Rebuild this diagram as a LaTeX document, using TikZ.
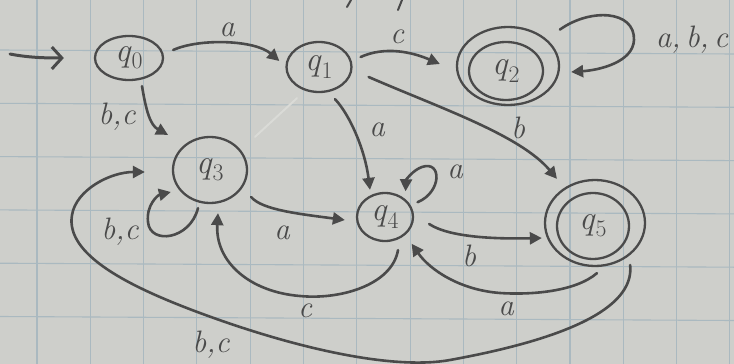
\documentclass[tikz,border=0pt]{standalone}
\usepackage{fontspec}
\usetikzlibrary{shapes.geometric,arrows.meta}
\definecolor{paper}{RGB}{206,207,203}
\definecolor{gridc}{RGB}{170,185,192}
\definecolor{pencil}{RGB}{74,74,74}
\definecolor{erased}{RGB}{218,219,215}
\newcommand{\qs}[1]{\textit{q}\textsubscript{#1}}
\begin{document}
\begin{tikzpicture}[x=1pt,y=1pt,
  state/.style={ellipse,draw=pencil,line width=2.3pt,inner sep=0pt,text=pencil,font=\fontsize{34}{34}\selectfont},
  edge/.style={draw=pencil,line width=2.6pt,line cap=round,-{Triangle[length=12pt,width=12pt]}},
  lbl/.style={text=pencil,font=\fontsize{31}{31}\selectfont\itshape,inner sep=0pt}]
\fill[paper] (0,0) rectangle (734,-364);
\useasboundingbox (0,0) rectangle (734,-364);
% grid
\foreach \gx in {37,90.3,143.6,196.9,250.2,303.5,356.8,410.1,463.4,516.7,570,623.3,676.6,729.9}
  \draw[gridc,line width=1.1pt] (\gx,0) -- (\gx,-364);
\foreach \gy in {50,103.3,156.6,209.9,263.2,316.5}
  \draw[gridc,line width=1.1pt] (0,-\gy) -- (734,-\gy-4);
% states
\node[state,minimum width=68pt,minimum height=44pt] (q0) at (129,-58) {\qs{0}};
\node[state,minimum width=65pt,minimum height=50pt] (q1) at (319,-67) {\qs{1}};
\node[state,minimum width=102pt,minimum height=78pt] (q2) at (508,-66) {};
\draw[pencil,line width=2.3pt] (506,-71) ellipse [x radius=37, y radius=29];
\node[state,draw=none] (q2t) at (506,-71) {\qs{2}};
\node[state,minimum width=74pt,minimum height=66pt] (q3) at (210,-170) {\qs{3}};
\node[state,minimum width=56pt,minimum height=48pt] (q4) at (385,-217) {\qs{4}};
\node[state,minimum width=100pt,minimum height=86pt] (q5) at (595,-223) {};
\draw[pencil,line width=2.3pt] (593,-226) ellipse [x radius=36, y radius=33];
\node[state,draw=none] (q5t) at (593,-226) {\qs{5}};
% marks at top edge
\coordinate (m1a) at (351,0); \coordinate (m1b) at (347,-7);
\coordinate (m2a) at (402,0); \coordinate (m2b) at (398,-10);
\draw[pencil,line width=2pt,line cap=round] (m1a) -- (m1b);
\draw[pencil,line width=2pt,line cap=round] (m2a) -- (m2b);
% initial arrow
\coordinate (init) at (10,-54);
\draw[pencil,line width=3pt,line cap=round,-{Straight Barb[length=10pt,width=22pt]},shorten >=30pt]
  (init) .. controls (30,-58) and (50,-58) .. (q0.west);
% erased stroke
\draw[erased,line width=2pt,line cap=round] ([shift={(-22,-5)}]q1.south) -- ([shift={(45,-1)}]q3.north);
% edges
\draw[edge] ([shift={(9,8)}]q0.east) .. controls (200,-38) and (255,-40) .. ([shift={(-6,6)}]q1.west);
\node[lbl] (la01) at (227,-30) {a};
\draw[edge] ([shift={(13,-5)}]q0.south) .. controls (146,-110) and (150,-125) .. ([shift={(-42,1)}]q3.north);
\node[lbl] (la03) at (117,-117) {b,c};
\draw[edge] ([shift={(8,10)}]q1.east) .. controls (385,-46) and (412,-52) .. ([shift={(-16,2)}]q2.west);
\node[lbl] (la12) at (397,-37) {c};
\draw[edge] ([shift={(16,-10)}]q1.east) .. controls (440,-108) and (520,-135) .. ([shift={(-38,0)}]q5.north);
\node[lbl] (la15) at (518,-128) {b};
\draw[edge] ([shift={(16,-6)}]q1.south) .. controls (350,-115) and (365,-150) .. ([shift={(-15,2)}]q4.north);
\node[lbl] (la14) at (377,-130) {a};
\draw[edge] ([shift={(15,8)}]q2.north east) .. controls (590,-8) and (635,-10) .. (634,-40) .. controls (633,-62) and (600,-70) .. ([shift={(11,-6)}]q2.east);
\node[lbl] (la22) at (692,-40) {a,\,b,\,c};
\draw[edge] ([shift={(-12,-4)}]q3.south) .. controls (190,-240) and (150,-245) .. (148,-222) .. controls (146,-205) and (158,-195) .. ([shift={(-1,-22)}]q3.west);
\node[lbl] (la33) at (120,-232) {b,c};
\draw[edge] ([shift={(3,-27)}]q3.east) .. controls (262,-210) and (300,-214) .. ([shift={(-11,-3)}]q4.west);
\node[lbl] (la34) at (282,-233) {a};
\draw[edge] ([shift={(13,-8)}]q4.south) .. controls (392,-285) and (340,-300) .. (300,-296) .. controls (250,-292) and (215,-262) .. ([shift={(8,-9)}]q3.south);
\node[lbl] (la43) at (305,-311) {c};
\draw[edge] ([shift={(12,-3)}]q4.north east) .. controls (442,-192) and (442,-160) .. (422,-167) .. controls (413,-170) and (406,-180) .. ([shift={(0,8)}]q4.north east);
\node[lbl] (la44) at (455,-172) {a};
\draw[edge] ([shift={(15,-7)}]q4.east) .. controls (450,-238) and (500,-239) .. ([shift={(-2,-15)}]q5.west);
\node[lbl] (la45) at (469,-256) {b};
\draw[edge] ([shift={(2,-6)}]q5.south) .. controls (575,-292) and (530,-295) .. (500,-293) .. controls (460,-290) and (430,-270) .. ([shift={(6,-9)}]q4.south east);
\node[lbl] (la54) at (506,-309) {a};
\draw[edge] ([shift={(-16,-42)}]q5.east) .. controls (635,-310) and (560,-340) .. (450,-360) .. controls (395,-370) and (300,-350) .. (200,-313) .. controls (130,-287) and (65,-255) .. (72,-215) .. controls (76,-190) and (110,-172) .. ([shift={(-27,-2)}]q3.west);
\node[lbl] (la53) at (211,-345) {b,c};
\end{tikzpicture}
\end{document}
